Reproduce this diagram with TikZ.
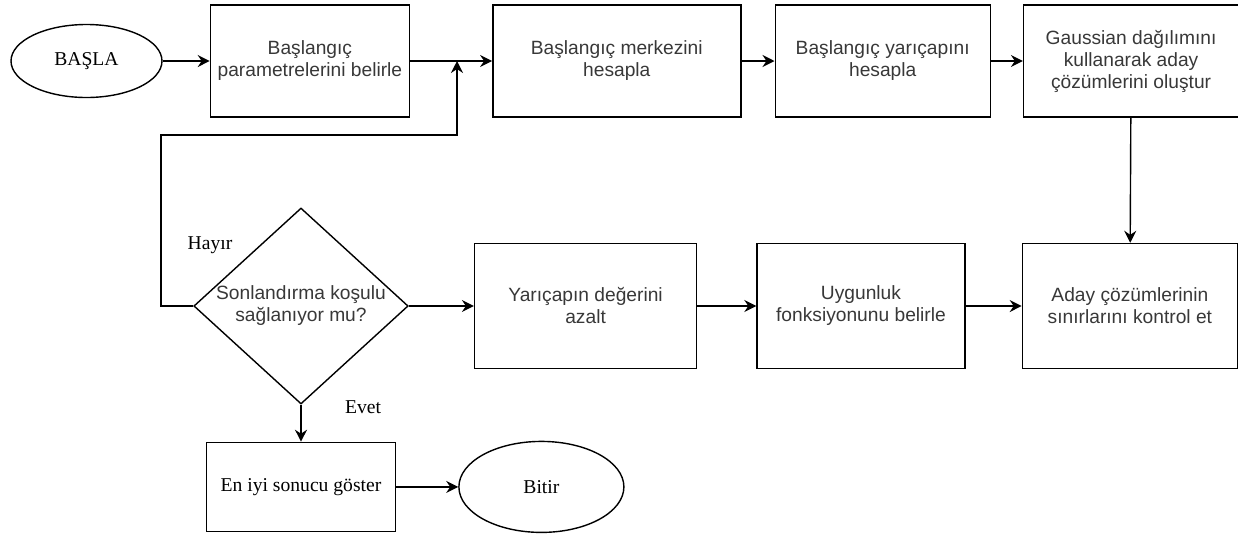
\documentclass[tikz,border=0pt]{standalone}
\usepackage{fontspec}
\setmainfont{Liberation Serif}
\setsansfont{Liberation Sans}
\usepackage{tikz}
\usetikzlibrary{arrows.meta, shapes.geometric, positioning}
\tikzset{
  >={Stealth[length=6pt, width=6pt, inset=2pt]},
  term/.style     = {draw, ellipse, inner sep=1pt,
                     font=\rmfamily\fontsize{9.8pt}{11pt}\selectfont},
  proc/.style     = {draw, rectangle, minimum height=56pt, inner sep=1pt,
                     align=center, text=black!78,
                     font=\sffamily\fontsize{9.6pt}{11pt}\selectfont},
  proclow/.style  = {proc, minimum height=62.5pt},
  decision/.style = {draw, diamond, shape aspect=1.12, inner sep=0pt,
                     minimum width=107pt, minimum height=98pt,
                     align=center, text=black!78,
                     font=\sffamily\fontsize{9.6pt}{11pt}\selectfont},
  lbl/.style      = {inner sep=0pt, font=\rmfamily\fontsize{9.8pt}{11pt}\selectfont},
  arrow/.style    = {->, line width=0.7pt},
}

\begin{document}
\begin{tikzpicture}[x=0.5pt, y=-0.5pt, line width=0.7pt]
  \useasboundingbox (0,0) rectangle (1238,537);

  % top row
  \node[term, minimum width=75.5pt, minimum height=36.5pt] (start) at (86.5,61) {BAŞLA};
  \node[proc, right=23.5pt of start,  minimum width=99.5pt]  (params) {Başlangıç\\parametrelerini belirle};
  \node[proc, right=41pt of params,   minimum width=124pt]   (centre) {Başlangıç merkezini\\hesapla};
  \node[proc, right=16.5pt of centre, minimum width=107.5pt] (radius) {Başlangıç yarıçapını\\hesapla};
  \node[proc, right=16pt of radius,   minimum width=107.5pt] (gauss)  {Gaussian dağılımını\\kullanarak aday\\çözümlerini oluştur};

  % middle row
  \node[decision] (stopq) at (301,306) {Sonlandırma koşulu\\sağlanıyor mu?};
  \node[proclow, right=32.5pt of stopq,  minimum width=111pt]   (shrink)  {Yarıçapın değerini\\azalt};
  \node[proclow, right=29.5pt of shrink, minimum width=104pt]   (fitness) {Uygunluk\\fonksiyonunu belirle};
  \node[proclow, right=28pt of fitness,  minimum width=107.5pt] (bounds)  {Aday çözümlerinin\\sınırlarını kontrol et};

  % bottom row
  \node[proc, below=18.5pt of stopq, minimum width=94.5pt, minimum height=44.5pt,
        text=black, font=\rmfamily\fontsize{9.8pt}{11pt}\selectfont] (best) {En iyi sonucu göster};
  \node[term, right=31pt of best, minimum width=82.5pt, minimum height=45.5pt] (finish) {Bitir};

  \node[lbl] (no)  at (210,245) {Hayır};
  \node[lbl] (yes) at (363,407) {Evet};

  \foreach \a/\b in {start/params, params/centre, centre/radius, radius/gauss,
                     gauss/bounds, stopq/shrink, shrink/fitness, fitness/bounds,
                     stopq/best, best/finish}
    \draw[arrow] (\a) -- (\b);

  % loop back when not finished
  \coordinate (loop) at (161,135);
  \coordinate (join) at (457,61);
  \draw[arrow] (stopq.west) -| (loop) -| (join);
\end{tikzpicture}
\end{document}
